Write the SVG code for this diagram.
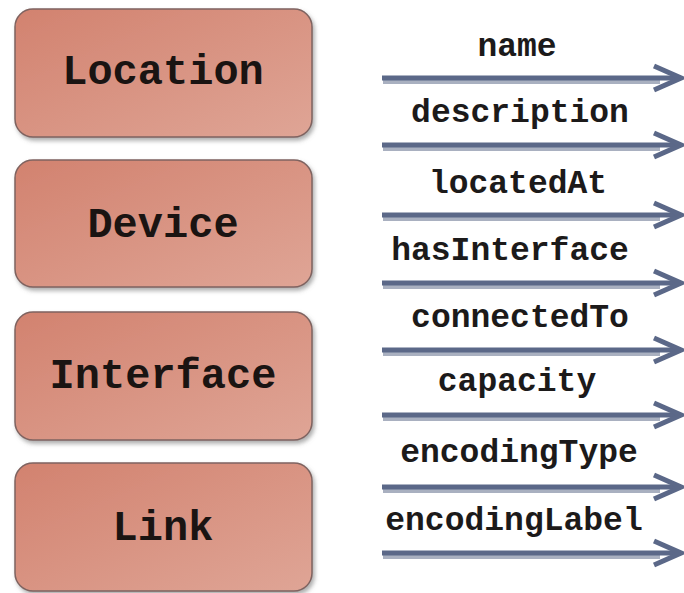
<svg xmlns="http://www.w3.org/2000/svg" width="684" height="593" viewBox="0 0 684 593">
<defs>
<linearGradient id="boxFill" x1="0" y1="0" x2="1" y2="1">
<stop offset="0" stop-color="#d2826f"/>
<stop offset="1" stop-color="#dfa596"/>
</linearGradient>
<filter id="shadow" x="-5%" y="-5%" width="112%" height="120%">
<feDropShadow dx="2" dy="3" stdDeviation="2" flood-color="#6a6a6a" flood-opacity="0.55"/>
</filter>
<marker id="arrow" markerUnits="userSpaceOnUse" markerWidth="34" markerHeight="34" refX="30" refY="15" orient="auto" viewBox="0 0 34 30">
<polyline points="3,3 30,15 3,27" fill="none" stroke="#5b6888" stroke-width="5" stroke-linejoin="miter"/>
</marker>
<style>
.box{fill:url(#boxFill);stroke:#7f6360;stroke-width:1.5;filter:url(#shadow)}
.node-text{font-family:"Liberation Mono","Courier New",monospace;font-weight:bold;font-size:42px;fill:#1a1412;text-anchor:middle}
.lbl{font-family:"Liberation Mono","Courier New",monospace;font-weight:bold;font-size:33px;fill:#1c1a1a;text-anchor:middle}
.shade{stroke:#a9b0c0;stroke-width:4;fill:none}
.line{stroke:#5b6888;stroke-width:5;fill:none;marker-end:url(#arrow)}
</style>
</defs>
<rect width="684" height="593" fill="#ffffff"/>
<g id="node-location">
<rect class="box" x="15" y="9" width="297" height="128" rx="18"/>
<text class="node-text" x="163" y="84">Location</text>
</g>
<g id="node-device">
<rect class="box" x="15" y="160" width="297" height="127" rx="18"/>
<text class="node-text" x="163" y="237">Device</text>
</g>
<g id="node-interface">
<rect class="box" x="15" y="312" width="297" height="128" rx="18"/>
<text class="node-text" x="163" y="388">Interface</text>
</g>
<g id="node-link">
<rect class="box" x="15" y="463" width="297" height="128" rx="18"/>
<text class="node-text" x="163" y="540">Link</text>
</g>
<g id="connectors">
<line class="shade" x1="383" y1="82" x2="660" y2="82"/>
<line class="line" x1="382" y1="78" x2="681" y2="78"/>
<line class="shade" x1="383" y1="149" x2="660" y2="149"/>
<line class="line" x1="382" y1="145" x2="681" y2="145"/>
<line class="shade" x1="383" y1="219" x2="660" y2="219"/>
<line class="line" x1="382" y1="215" x2="681" y2="215"/>
<line class="shade" x1="383" y1="287" x2="660" y2="287"/>
<line class="line" x1="382" y1="283" x2="681" y2="283"/>
<line class="shade" x1="383" y1="354" x2="660" y2="354"/>
<line class="line" x1="382" y1="350" x2="681" y2="350"/>
<line class="shade" x1="383" y1="419" x2="660" y2="419"/>
<line class="line" x1="382" y1="415" x2="681" y2="415"/>
<line class="shade" x1="383" y1="491" x2="660" y2="491"/>
<line class="line" x1="382" y1="487" x2="681" y2="487"/>
<line class="shade" x1="383" y1="557" x2="660" y2="557"/>
<line class="line" x1="382" y1="553" x2="681" y2="553"/>
</g>
<g id="labels">
<text class="lbl" x="517" y="56">name</text>
<text class="lbl" x="520" y="122">description</text>
<text class="lbl" x="518" y="193">locatedAt</text>
<text class="lbl" x="510" y="260">hasInterface</text>
<text class="lbl" x="520" y="327">connectedTo</text>
<text class="lbl" x="517" y="391">capacity</text>
<text class="lbl" x="519" y="462">encodingType</text>
<text class="lbl" x="514" y="530">encodingLabel</text>
</g>
</svg>
